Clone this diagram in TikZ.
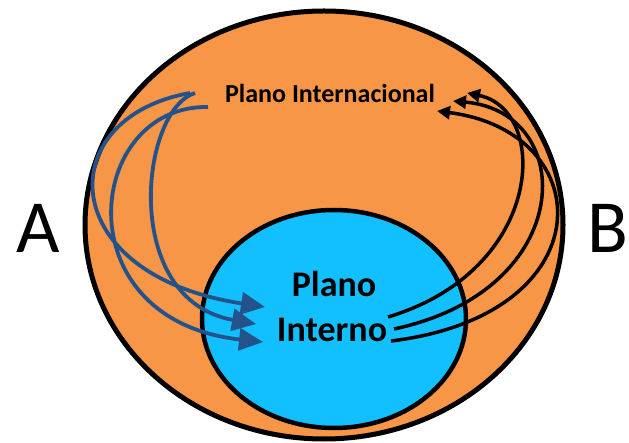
\documentclass[tikz,border=0pt]{standalone}
\usepackage{fontspec}
\setmainfont{Carlito}
\usetikzlibrary{arrows.meta}
\definecolor{orangefill}{HTML}{F79646}
\definecolor{cyanfill}{HTML}{12C0FF}
\definecolor{bluearrow}{HTML}{24528A}
\tikzset{
  outerring/.style={draw=black, line width=5pt, fill=orangefill},
  innerring/.style={draw=black, line width=4.5pt, fill=cyanfill},
  bluecon/.style={draw=bluearrow, line width=3.8pt, -{Triangle[length=24pt,width=22pt]}},
  blackcon/.style={draw=black, line width=3.5pt, -{Triangle[length=13pt,width=13pt]}},
  bigletter/.style={font=\fontsize{75}{80}\selectfont, anchor=base, inner sep=0pt},
  smalllabel/.style={font=\bfseries\fontsize{26}{30}\selectfont, anchor=base, inner sep=0pt},
  innerlabel/.style={font=\bfseries\fontsize{36}{40}\selectfont, anchor=base, inner sep=0pt}
}
\begin{document}
\begin{tikzpicture}[x=1pt,y=-1pt]
\useasboundingbox (0,0) rectangle (629,443);
\draw[outerring] (324,225) ellipse [x radius=239, y radius=214];
\draw[innerring] (334,319) ellipse [x radius=132, y radius=109];
\node[bigletter] (A) at (38,253) {A};
\node[bigletter] (B) at (608,253) {B};
\node[smalllabel] (intl) at (330,103) {Plano Internacional};
\node[innerlabel] (plano) at (334,297) {Plano};
\node[innerlabel] (interno) at (332,342) {Interno};
% blue connector endpoints
\coordinate (s1) at (190,93);
\coordinate (s2) at (208,107);
\coordinate (s3) at (195,93);
\coordinate (e1) at (265,307);
\coordinate (e2) at (263,342);
\coordinate (e3) at (256,324);
\draw[bluecon] (s1) .. controls (50,118) and (55,275) .. (e1);
\draw[bluecon] (s2) .. controls (85,105) and (62,320) .. (e2);
\draw[bluecon] (s3) .. controls (140,110) and (120,300) .. (e3);
% black connector endpoints
\coordinate (b1) at (388,317);
\coordinate (b2) at (394,329);
\coordinate (b3) at (391,341);
\coordinate (t1) at (467,93);
\coordinate (t2) at (453,101);
\coordinate (t3) at (437,111);
\draw[blackcon] (b1) .. controls (545,270) and (550,110) .. (t1);
\draw[blackcon] (b2) .. controls (578,290) and (578,112) .. (t2);
\draw[blackcon] (b3) .. controls (605,315) and (600,132) .. (t3);
\end{tikzpicture}
\end{document}
